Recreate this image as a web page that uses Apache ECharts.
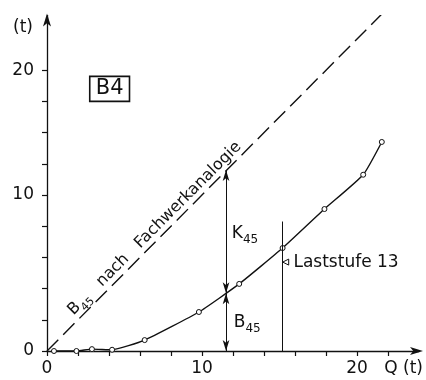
<!DOCTYPE html>
<html>
<head>
<meta charset="utf-8">
<script src="https://cdn.jsdelivr.net/npm/echarts@6/dist/echarts.min.js"></script>
<style>html,body{margin:0;padding:0;background:#fff}#c{width:426px;height:380px}</style>
</head>
<body>
<div id="c"></div>
<script>
// ---- data ----
const curveQ = [0.45, 1.9, 2.9, 4.2, 6.3, 9.8, 12.4, 15.2, 17.9, 20.4, 21.6];
const curveB = [0, 0, 0.12, 0.08, 0.7, 2.5, 4.3, 6.6, 9.1, 11.3, 13.4];
const fachQ = [0, 21.6];
const fachB = [0, 21.6];
const xTickValues = [0, 2, 4, 6, 8, 10, 12, 14, 16, 18, 20, 22];
const xLabelValues = [0, 10, 20];
const yTickValues = [0, 2, 4, 6, 8, 10, 12, 14, 16, 18];
const yLabelValues = [0, 10, 18];
const yLabelTexts = ['0', '10', '20'];
const arrowQ = 11.55;          // position of K45 / B45 dimension arrow
const arrowTop = 11.6;         // B45 by truss analogy at arrowQ
const arrowMid = 3.7;          // measured B45 at arrowQ
const stufeQ = 15.17;          // Laststufe 13
const stufeTop = 8.3;
const b4Pos = [4.04, 16.8];
const k45Pos = [11.92, 7.56];
const b45Pos = [12.05, 1.86];
const stufeMarkPos = [15.4, 5.7];
const stufeTextPos = [15.9, 5.7];
const fachTextPos = [6.9, 7.9];

const FONT = 'DejaVu Sans';
const INK = '#111';

const chart = echarts.init(document.getElementById('c'), null, {renderer: 'canvas'});
const sub = {fontFamily: FONT, fontSize: 12, color: INK, verticalAlign: 'bottom', lineHeight: 18, padding: [0,0,-4,0]};
const main = {fontFamily: FONT, fontSize: 17, color: INK, verticalAlign: 'bottom', lineHeight: 18};

chart.setOption({
  animation: false,
  backgroundColor: '#fff',
  grid: {left: 47, right: 4.6, top: 15.6, bottom: 29, containLabel: false},
  xAxis: {
    type: 'value', min: 0, max: 24,
    name: 'Q (t)', nameLocation: 'end', nameGap: 4,
    nameTextStyle: {fontFamily: FONT, fontSize: 17, color: INK, align: 'right', verticalAlign: 'top', padding: [9, 0, 0, 0]},
    axisLine: {show: true, onZero: false, lineStyle: {color: INK, width: 1.3}, symbol: ['none', 'arrow'], symbolSize: [6, 13], symbolOffset: [0, 4]},
    axisTick: {show: true, inside: false, length: 5, customValues: xTickValues, lineStyle: {color: INK, width: 1.2}},
    axisLabel: {show: true, margin: 9, fontFamily: FONT, fontSize: 17, color: INK, customValues: xLabelValues},
    splitLine: {show: false}
  },
  yAxis: {
    type: 'value', min: 0, max: 21.5,
    name: '(t)', nameLocation: 'end', nameGap: -12,
    nameTextStyle: {fontFamily: FONT, fontSize: 17, color: INK, align: 'right', verticalAlign: 'middle', padding: [0, 14, 0, 0]},
    axisLine: {show: true, onZero: false, lineStyle: {color: INK, width: 1.3}, symbol: ['none', 'arrow'], symbolSize: [6, 13], symbolOffset: [0, 2]},
    axisTick: {show: true, inside: false, length: 5, customValues: yTickValues, lineStyle: {color: INK, width: 1.2}},
    axisLabel: {show: true, margin: 13, fontFamily: FONT, fontSize: 17, color: INK, customValues: yLabelValues,
      formatter: v => { const i = yLabelValues.indexOf(v); return i >= 0 ? yLabelTexts[i] : ''; }},
    splitLine: {show: false}
  },
  series: [
    {
      name: 'B45 nach Fachwerkanalogie', type: 'line',
      data: fachQ.map((q, i) => [q, fachB[i]]),
      showSymbol: false, silent: true, z: 2,
      lineStyle: {color: INK, width: 1.4, type: [16, 7]}
    },
    {
      name: 'B45', type: 'line',
      data: curveQ.map((q, i) => [q, curveB[i]]),
      smooth: 0.15,
      symbol: 'circle', symbolSize: 5, z: 3,
      itemStyle: {color: '#fff', borderColor: INK, borderWidth: 1},
      lineStyle: {color: INK, width: 1.4},
      markLine: {
        silent: true, animation: false,
        label: {show: false},
        lineStyle: {color: INK, width: 1, type: 'solid'},
        symbol: ['arrow', 'arrow'], symbolSize: [5, 11],
        data: [
          [{coord: [arrowQ, arrowMid]}, {coord: [arrowQ, arrowTop]}],
          [{coord: [arrowQ, 0]}, {coord: [arrowQ, arrowMid]}],
          [{coord: [stufeQ, 0], symbol: 'none'}, {coord: [stufeQ, stufeTop], symbol: 'none'}]
        ]
      }
    },
    {
      name: 'marker', type: 'scatter', z: 4, silent: true,
      data: [stufeMarkPos],
      symbol: 'triangle', symbolRotate: 90, symbolSize: [6, 6],
      itemStyle: {color: '#fff', borderColor: INK, borderWidth: 1, opacity: 1}
    },
    {
      name: 'labels', type: 'scatter', z: 5, silent: true, symbolSize: 0,
      itemStyle: {opacity: 1},
      data: [
        {value: b4Pos, label: {show: true, position: [0, 0], align: 'center', verticalAlign: 'middle',
          formatter: 'B4', fontFamily: FONT, fontSize: 21, color: INK,
          borderColor: INK, borderWidth: 1.6, padding: [3, 6, 1, 6]}},
        {value: k45Pos, label: {show: true, position: [0, 0], align: 'left', verticalAlign: 'middle',
          formatter: '{m|K}{s|45}', rich: {m: main, s: sub}}},
        {value: b45Pos, label: {show: true, position: [0, 0], align: 'left', verticalAlign: 'middle',
          formatter: '{m|B}{s|45}', rich: {m: main, s: sub}}},
        {value: stufeTextPos, label: {show: true, position: [0, 0], align: 'left', verticalAlign: 'middle',
          formatter: 'Laststufe 13', fontFamily: FONT, fontSize: 17, color: INK}},
        {value: fachTextPos, label: {show: true, position: [0, 0], align: 'center', verticalAlign: 'middle', rotate: 45,
          formatter: '{m|B}{s|45}{n|   nach   Fachwerkanalogie}',
          rich: {m: {fontFamily: FONT, fontSize: 16, color: INK, verticalAlign: 'bottom', lineHeight: 18},
                 s: {fontFamily: FONT, fontSize: 11, color: INK, verticalAlign: 'bottom', lineHeight: 18, padding: [0,0,-4,0]},
                 n: {fontFamily: FONT, fontSize: 16, color: INK, verticalAlign: 'bottom', lineHeight: 18}}}}
      ]
    }
  ]
});
</script>
</body>
</html>
